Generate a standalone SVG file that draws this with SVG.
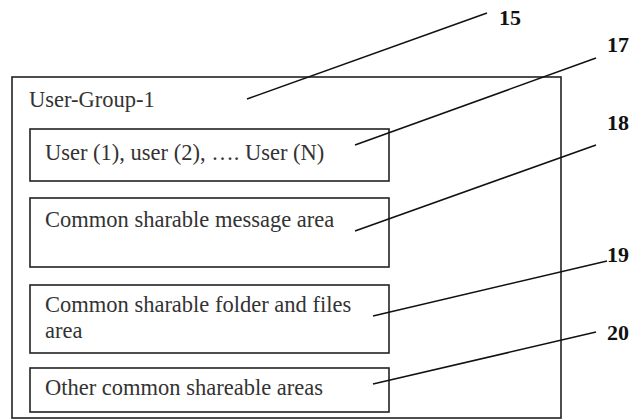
<svg xmlns="http://www.w3.org/2000/svg" width="631" height="420" viewBox="0 0 631 420">
<style>
.box{fill:none;stroke:#222;stroke-width:1.6}
.t{font-family:'Liberation Serif','DejaVu Serif',serif;font-size:22.5px;fill:#333}
.n{font-family:'Liberation Serif','DejaVu Serif',serif;font-size:22px;font-weight:bold;fill:#111}
.ld{stroke:#111;stroke-width:1.6;fill:none}
</style>
<rect width="631" height="420" fill="#fff"/>
<g id="group15">
<rect class="box" x="12" y="77" width="549" height="341"/>
<text class="t" x="29" y="107">User-Group-1</text>
</g>
<g id="node17">
<rect class="box" x="30" y="129" width="359" height="52"/>
<text class="t" x="45" y="160">User (1), user (2), …. User (N)</text>
</g>
<g id="node18">
<rect class="box" x="30" y="198" width="359" height="69"/>
<text class="t" x="45" y="227">Common sharable message area</text>
</g>
<g id="node19">
<rect class="box" x="30" y="285" width="359" height="68"/>
<text class="t" x="45" y="312">Common sharable folder and files</text>
<text class="t" x="45" y="338">area</text>
</g>
<g id="node20">
<rect class="box" x="30" y="368" width="359" height="44"/>
<text class="t" x="45" y="395">Other common shareable areas</text>
</g>
<g id="connectors">
<line class="ld" x1="247" y1="99" x2="487" y2="13"/>
<line class="ld" x1="355" y1="145" x2="596" y2="58"/>
<line class="ld" x1="355" y1="231" x2="596" y2="145"/>
<line class="ld" x1="373" y1="316" x2="607" y2="261"/>
<line class="ld" x1="373" y1="384" x2="596" y2="332"/>
</g>
<g id="labels">
<text class="n" x="499" y="25">15</text>
<text class="n" x="607" y="52">17</text>
<text class="n" x="607" y="130">18</text>
<text class="n" x="607" y="262">19</text>
<text class="n" x="607" y="340">20</text>
</g>
</svg>
